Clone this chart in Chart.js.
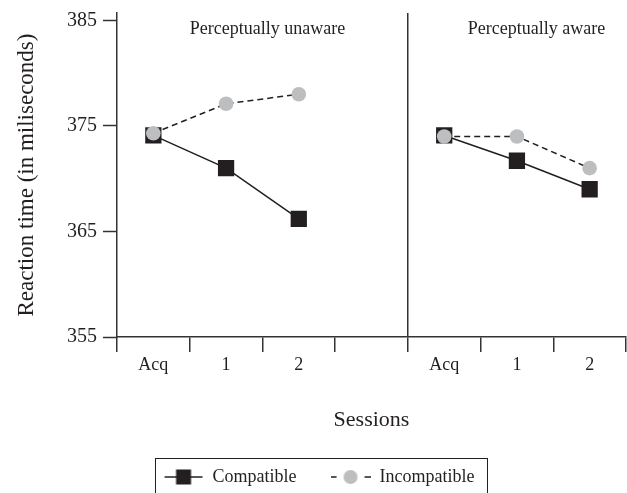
<!DOCTYPE html>
<html>
<head>
<meta charset="utf-8">
<script src="https://cdn.jsdelivr.net/npm/chart.js@4.4.1/dist/chart.umd.min.js"></script>
<style>
  html, body { margin: 0; padding: 0; background: #fff; }
  #wrap { width: 627px; height: 493px; }
</style>
</head>
<body>
<div id="wrap"><canvas id="chart"></canvas></div>
<script>
// Reaction time by session, two awareness panels
const sessions = ['Acq', '1', '2', '', 'Acq', '1', '2'];
const compatible = [374.1, 371.0, 366.2, null, 374.1, 371.7, 369.0];
const incompatible = [374.3, 377.1, 378.0, null, 374.0, 374.0, 371.0];
const yTicks = [355, 365, 375, 385];
const panelTitles = ['Perceptually unaware', 'Perceptually aware'];

const INK = '#231f20';
const AXIS = '#333333';
const GREY = '#bcbec0';
const SERIF = "'Liberation Serif', 'Times New Roman', serif";

function legendMarker(kind) {
  const c = document.createElement('canvas');
  c.width = 40;
  c.height = 18;
  const g = c.getContext('2d');
  g.strokeStyle = INK;
  g.lineWidth = 1.5;
  g.beginPath();
  if (kind === 'square') {
    g.moveTo(1, 9); g.lineTo(39, 9);
    g.stroke();
    g.fillStyle = INK;
    g.fillRect(12.5, 1.5, 15, 15);
  } else {
    g.moveTo(0, 9); g.lineTo(6, 9);
    g.moveTo(34, 9); g.lineTo(40, 9);
    g.stroke();
    g.fillStyle = GREY;
    g.beginPath();
    g.arc(20, 9, 7, 0, Math.PI * 2);
    g.fill();
  }
  return c;
}

const panelTitlePlugin = {
  id: 'panelTitles',
  afterDraw(chart) {
    const { ctx, scales: { x, y } } = chart;
    const at = [1.57, 5.27];
    ctx.save();
    ctx.font = `18px ${SERIF}`;
    ctx.fillStyle = INK;
    ctx.textAlign = 'center';
    ctx.textBaseline = 'middle';
    panelTitles.forEach((t, i) => ctx.fillText(t, x.getPixelForValue(at[i]), y.getPixelForValue(384.2)));
    ctx.restore();
  },
};

// box around the legend row (runs off the bottom edge, as in the source)
const legendFramePlugin = {
  id: 'legendFrame',
  afterDraw(chart) {
    const hb = chart.legend && chart.legend.legendHitBoxes;
    if (!hb || !hb.length) return;
    const left = Math.min(...hb.map((h) => h.left)) - 9;
    const right = Math.max(...hb.map((h) => h.left + h.width)) + 12;
    const top = hb[0].top - 10;
    const bottom = hb[0].top + hb[0].height + 30;
    const { ctx } = chart;
    ctx.save();
    ctx.strokeStyle = INK;
    ctx.lineWidth = 1;
    ctx.strokeRect(Math.round(left) + 0.5, Math.round(top) + 0.5, Math.round(right - left), Math.round(bottom - top));
    ctx.restore();
  },
};

const markers = { compatible: legendMarker('square'), incompatible: legendMarker('circle') };

new Chart(document.getElementById('chart'), {
  type: 'line',
  data: {
    labels: sessions,
    datasets: [
      {
        label: 'Compatible',
        data: compatible,
        order: 2,
        borderColor: INK,
        borderWidth: 1.5,
        backgroundColor: INK,
        pointStyle: 'rect',
        pointRadius: 11.5,
        pointBorderWidth: 0,
        pointBackgroundColor: INK,
        spanGaps: false,
        tension: 0,
      },
      {
        label: 'Incompatible',
        data: incompatible,
        order: 1,
        borderColor: INK,
        borderWidth: 1.5,
        borderDash: [6, 4],
        backgroundColor: GREY,
        pointStyle: 'circle',
        pointRadius: 7.3,
        pointBorderWidth: 0,
        pointBackgroundColor: GREY,
        spanGaps: false,
        tension: 0,
      },
    ],
  },
  options: {
    responsive: true,
    maintainAspectRatio: false,
    animation: false,
    layout: { autoPadding: false, padding: { top: 13, right: 1, left: 12, bottom: 0 } },
    plugins: {
      tooltip: { enabled: false },
      legend: {
        position: 'bottom',
        maxHeight: 59,
        labels: {
          usePointStyle: true,
          pointStyleWidth: 40,
          padding: 34,
          color: INK,
          font: { family: SERIF, size: 18 },
          generateLabels: () => [
            { text: 'Compatible', pointStyle: markers.compatible, fillStyle: INK, strokeStyle: INK, lineWidth: 0, hidden: false, datasetIndex: 0, fontColor: INK },
            { text: 'Incompatible', pointStyle: markers.incompatible, fillStyle: GREY, strokeStyle: INK, lineWidth: 0, hidden: false, datasetIndex: 1, fontColor: INK },
          ],
        },
      },
    },
    scales: {
      x: {
        offset: true,
        afterFit: (s) => {
          s.height = s.chart.height - 337 - (s.chart.legend ? s.chart.legend.height : 59);
          s.paddingLeft = 0;
          s.paddingRight = 0;
        },
        border: { color: AXIS, width: 1.5 },
        grid: {
          offset: true,
          lineWidth: 1.5,
          tickLength: 15,
          tickWidth: 1.5,
          tickColor: AXIS,
          color: (c) => (c.index === 4 ? AXIS : 'rgba(0,0,0,0)'),
        },
        ticks: { autoSkip: false, maxRotation: 0, color: INK, padding: 2, font: { family: SERIF, size: 18 } },
        title: { display: true, text: 'Sessions', color: INK, font: { family: SERIF, size: 22 }, padding: { top: 0, bottom: 1 } },
      },
      y: {
        min: 355,
        max: 385.7,
        afterBuildTicks: (s) => { s.ticks = yTicks.map((v) => ({ value: v })); },
        afterFit: (s) => {
          s.width = 105;
          s.paddingTop = 0;
          s.paddingBottom = 0;
        },
        border: { color: AXIS, width: 1.5 },
        grid: { drawOnChartArea: false, tickLength: 14, tickWidth: 1.5, tickColor: AXIS },
        ticks: { color: INK, padding: 6, font: { family: SERIF, size: 20 } },
        title: { display: true, text: 'Reaction time (in miliseconds)', color: INK, font: { family: SERIF, size: 23 }, padding: { top: 1, bottom: 0 } },
      },
    },
  },
  plugins: [panelTitlePlugin, legendFramePlugin],
});
</script>
</body>
</html>
